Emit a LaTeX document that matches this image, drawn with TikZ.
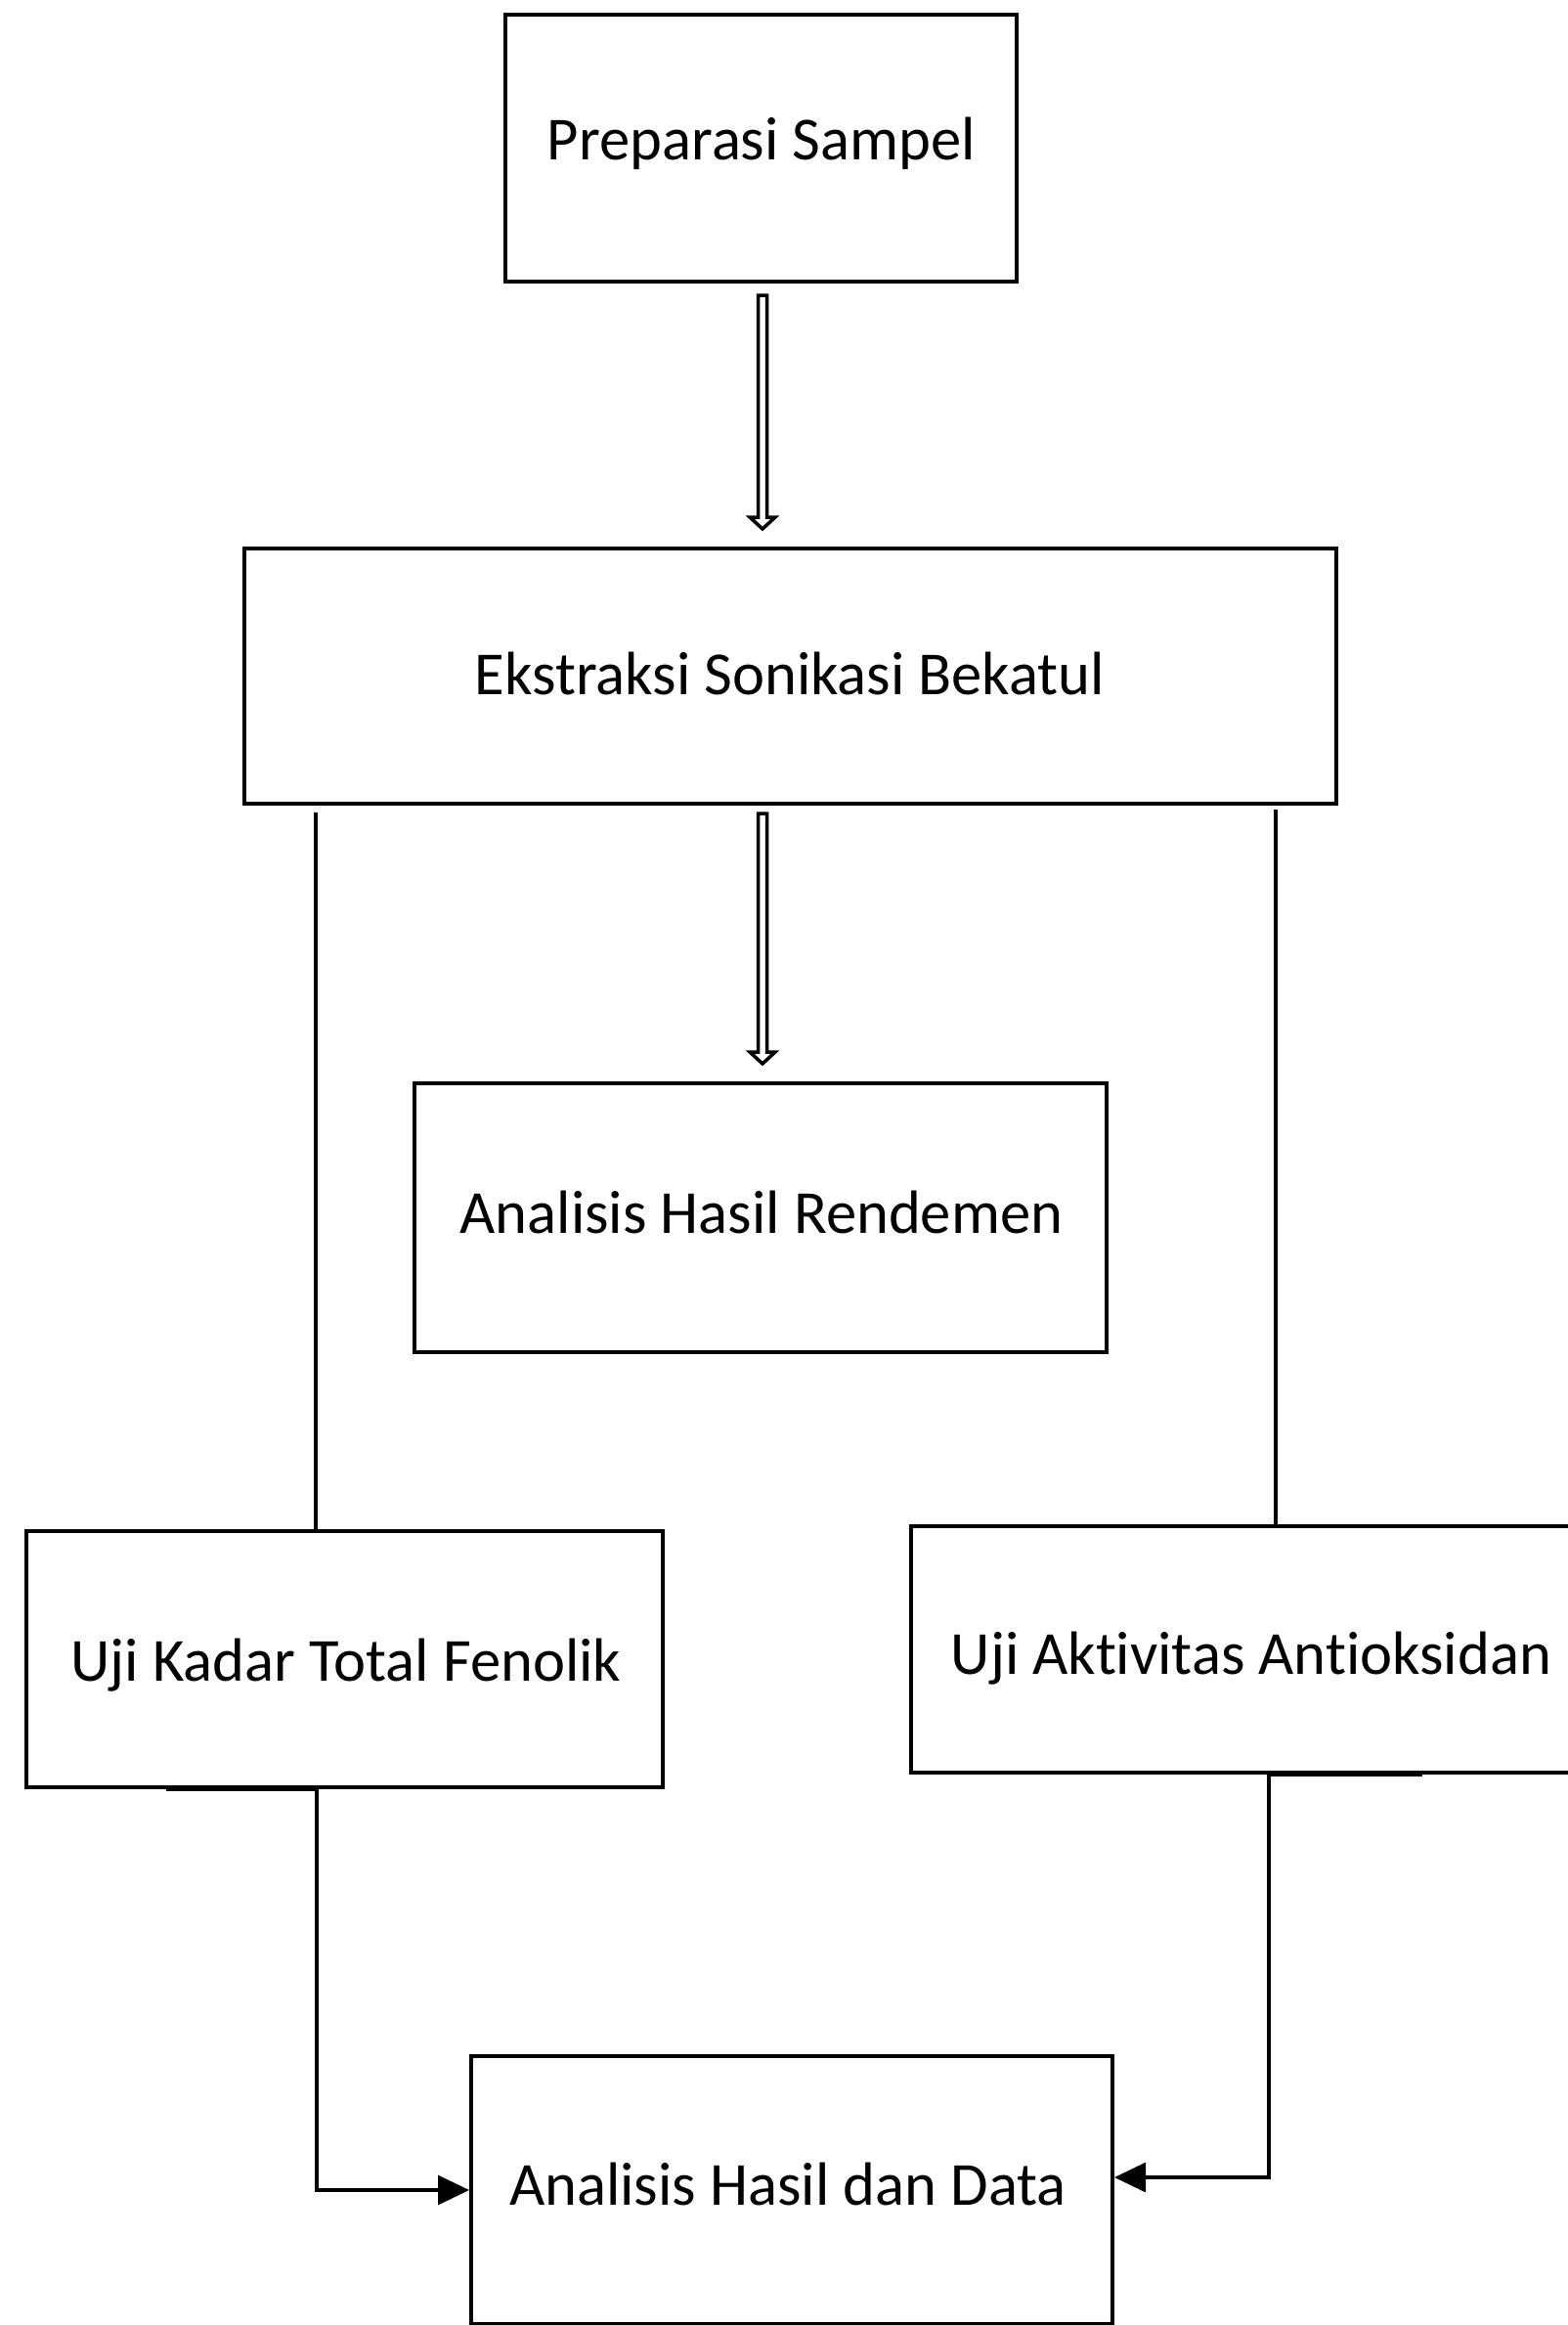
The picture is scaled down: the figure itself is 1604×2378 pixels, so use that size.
\documentclass[tikz,border=0pt]{standalone}
\usepackage{fontspec}
\setmainfont[Ligatures=NoCommon]{Carlito}
\usetikzlibrary{arrows.meta}
\begin{document}
\begin{tikzpicture}[x=0.5pt,y=-0.5pt,
  box/.style={draw,line width=2pt,inner sep=0pt},
  lbl/.style={inner sep=0pt,font=\fontsize{31.3}{36}\selectfont},
  conn/.style={line width=1.6pt},
  tip/.style={-{Triangle[length=16pt,width=15pt]}},
  hollow/.style={line width=1.75pt,fill=white,line join=miter}]
\useasboundingbox (0,0) rectangle (1604,2378);
\clip (0,0) rectangle (1604,2378);
\fill[white] (0,0) rectangle (1604,2378);

\node[box,minimum width=261.5pt,minimum height=136.5pt] (b1) at (778.5,151.5) {};
\node[box,minimum width=558.5pt,minimum height=130.5pt] (b2) at (808.5,691.5) {};
\node[box,minimum width=354pt,minimum height=137.5pt] (b3) at (778,1245.5) {};
\node[box,minimum width=325.5pt,minimum height=131pt] (b4) at (352.5,1697) {};
\node[box,minimum width=348pt,minimum height=126pt] (b5) at (1280,1687) {};
\node[box,minimum width=328pt,minimum height=137pt] (b6) at (810,2240) {};

\node[lbl] (t1) at (779,147) {Preparasi Sampel};
\node[lbl] (t2) at (808,689) {Ekstraksi Sonikasi Bekatul};
\node[lbl] (t3) at (779,1239.5) {Analisis Hasil Rendemen};
\node[lbl] (t4) at (354,1703) {Uji Kadar Total Fenolik};
\node[lbl] (t5) at (1280,1696) {Uji Aktivitas Antioksidan};
\node[lbl] (t6) at (806,2234) {Analisis Hasil dan Data};

% hollow arrows
\draw[hollow] (775.5,302) -- (775.5,529) -- (767,529) -- (780,541) -- (793,529) -- (784.5,529) -- (784.5,302) -- cycle;
\draw[hollow] (775.5,832) -- (775.5,1076) -- (767,1076) -- (780,1088) -- (793,1076) -- (784.5,1076) -- (784.5,832) -- cycle;

% side connectors
\coordinate (L0) at (323,831);
\coordinate (R0) at (1305,828);
\draw[conn] (L0) -- (L0 |- b4.north);
\draw[conn] (R0) -- (R0 |- b5.north);

\coordinate (L1) at (324,1828);
\coordinate (R1) at (1298,1813);
\draw[conn,tip] (L1) |- (b6.west);
\draw[conn,tip] (R1) |- ([yshift=6.5pt]b6.east);

% small thicker overlaps on box bottoms
\draw[line width=2.8pt] (170,1829) -- (324,1829);
\draw[line width=2.8pt] (1300,1814.5) -- (1455,1814.5);
\end{tikzpicture}
\end{document}
